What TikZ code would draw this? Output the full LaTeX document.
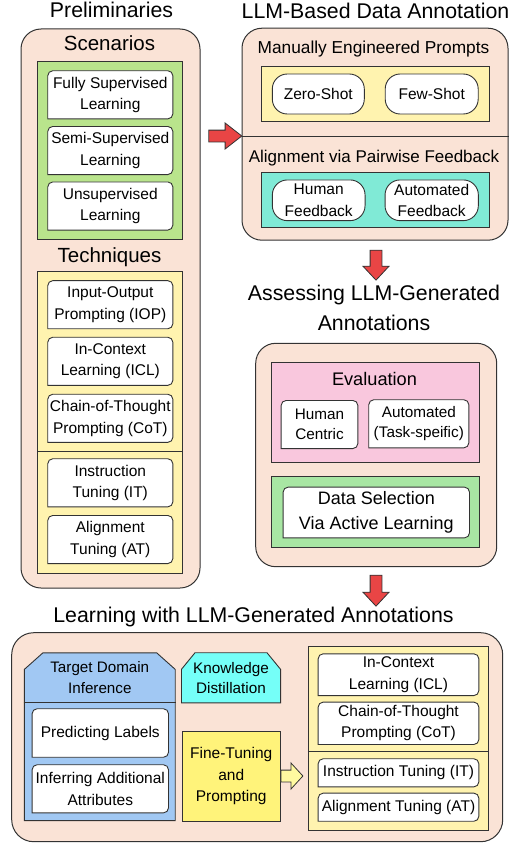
\documentclass[tikz,border=0pt]{standalone}
\usepackage{fontspec}
\setmainfont{Liberation Sans}
\usetikzlibrary{shapes.arrows}
\definecolor{linegray}{RGB}{51,51,51}
\definecolor{peach}{RGB}{250,227,214}
\definecolor{scengreen}{RGB}{185,228,140}
\definecolor{paleyellow}{RGB}{255,243,175}
\definecolor{fbteal}{RGB}{128,234,214}
\definecolor{evalpink}{RGB}{249,199,221}
\definecolor{selgreen}{RGB}{168,230,163}
\definecolor{tdiblue}{RGB}{161,200,243}
\definecolor{kdcyan}{RGB}{117,255,248}
\definecolor{ftyellow}{RGB}{255,243,122}
\definecolor{arrowyellow}{RGB}{255,250,160}
\definecolor{arrowred}{RGB}{233,69,69}
\begin{document}
\begin{tikzpicture}[x=1pt, y=-1pt, line width=0.9pt,
  title/.style={font=\fontsize{21.3}{30}\selectfont, align=center},
  head/.style={anchor=base, font=\fontsize{#1}{#1}\selectfont},
  panel/.style={draw=linegray, fill=peach, rounded corners=20pt, inner sep=0pt, line width=1pt},
  group/.style={draw=linegray, fill=#1, inner sep=0pt},
  leaf/.style={inner sep=0pt, align=center, font=\fontsize{15.5}{21.5}\selectfont,
    path picture={\draw[draw=linegray, fill=white, rounded corners=5pt, line cap=rect]
      ([shift={(0.45pt,0.45pt)}]path picture bounding box.south west)
      -- ([shift={(0.45pt,-0.45pt)}]path picture bounding box.north west)
      -- ([shift={(-0.45pt,-0.45pt)}]path picture bounding box.north east)
      -- ([shift={(-0.45pt,0.45pt)}]path picture bounding box.south east)
      -- ([shift={(0.45pt,0.45pt)}]path picture bounding box.south west);}},
  pill/.style={draw=linegray, fill=white, rounded corners=15pt, inner sep=0pt, align=center,
    font=\fontsize{15.5}{21.5}\selectfont},
  cut/.style 2 args={inner sep=0pt, align=center, font=\fontsize{15.3}{20}\selectfont,
    path picture={\draw[draw=linegray, fill=#1]
      ([shift={(0.45pt,0.45pt)}]path picture bounding box.south west)
      -- ([shift={(0.45pt,-17pt)}]path picture bounding box.north west)
      -- ([shift={(#2,-0.45pt)}]path picture bounding box.north west)
      -- ([shift={(-#2,-0.45pt)}]path picture bounding box.north east)
      -- ([shift={(-0.45pt,-17pt)}]path picture bounding box.north east)
      -- ([shift={(-0.45pt,0.45pt)}]path picture bounding box.south east) -- cycle;}},
  blockarrow/.style={single arrow, draw=linegray, fill=arrowred, inner sep=5.5pt,
    minimum width=22pt, line width=0.8pt}]
\useasboundingbox (0,0) rectangle (520,843);

% Preliminaries
\node[title, anchor=base] (pretitle) at (111.5,17.5) {Preliminaries};
\node[panel, minimum width=179pt, minimum height=559pt] (pre) at (110.5,308.5) {};
\node[head=20.5] (scentitle) at (109.5,51) {Scenarios};
\node[group=scengreen, minimum width=145pt, minimum height=178pt] (scen) at (110.2,150) {};
\node[leaf, minimum width=126pt, minimum height=49pt] (fsl) at (110.3,94.8) {Fully Supervised\\Learning};
\node[leaf, minimum width=126pt, minimum height=49pt] (ssl) at (110.3,150.5) {Semi-Supervised\\Learning};
\node[leaf, minimum width=126pt, minimum height=49pt] (usl) at (110.3,206) {Unsupervised\\Learning};
\node[head=20.5] (techtitle) at (109.5,262) {Techniques};
\node[group=paleyellow, minimum width=145pt, minimum height=301.6pt] (tech) at (110.2,422.5) {};
\draw[linegray] (tech.west |- 0,451.7) -- (tech.east |- 0,451.7);
\node[leaf, minimum width=126pt, minimum height=49pt] (iop) at (110.3,304.7) {Input-Output\\Prompting (IOP)};
\node[leaf, minimum width=126pt, minimum height=49pt] (icl) at (110.3,361.3) {In-Context\\Learning (ICL)};
\node[leaf, minimum width=126pt, minimum height=49pt] (cot) at (110.3,418.3) {Chain-of-Thought\\Prompting (CoT)};
\node[leaf, minimum width=126pt, minimum height=49pt] (itu) at (110.3,482.8) {Instruction\\Tuning (IT)};
\node[leaf, minimum width=126pt, minimum height=49pt] (atu) at (110.3,539.5) {Alignment\\Tuning (AT)};

\node[blockarrow, minimum height=33pt, single arrow tip angle=76] (arr1) at (221.5,136) {};

% LLM-based annotation
\node[title, anchor=base] (llmtitle) at (375.5,18.5) {LLM-Based Data Annotation};
\node[panel, minimum width=266pt, minimum height=212pt] (llm) at (375,134.2) {};
\node[head=17.3] (meptitle) at (373.5,53.5) {Manually Engineered Prompts};
\node[group=paleyellow, minimum width=227.6pt, minimum height=55pt] (prompts) at (375.5,93.5) {};
\node[pill, minimum width=92pt, minimum height=40pt] (zero) at (318.3,94) {Zero-Shot};
\node[pill, minimum width=93pt, minimum height=40pt] (few) at (431.7,94) {Few-Shot};
\draw[linegray] (llm.west |- 0,136.7) -- (llm.east |- 0,136.7);
\node[head=17] (apftitle) at (374,162) {Alignment via Pairwise Feedback};
\node[group=fbteal, minimum width=227.6pt, minimum height=55.4pt] (feedback) at (375.5,200) {};
\node[pill, minimum width=92.7pt, minimum height=40.7pt] (hf) at (318.7,200.3) {Human\\Feedback};
\node[pill, minimum width=93.3pt, minimum height=40.7pt] (af) at (431.7,200.3) {Automated\\Feedback};

\node[blockarrow, shape border rotate=270, minimum height=30pt, single arrow tip angle=86] (arr2) at (376,262) {};

% Assessing
\node[title] (asstitle) at (374,308) {Assessing LLM-Generated\\Annotations};
\node[panel, minimum width=241pt, minimum height=223.4pt] (assess) at (376.2,455) {};
\node[group=evalpink, minimum width=207.6pt, minimum height=100pt] (eval) at (375.5,412.3) {};
\node[head=18.2] (evaltitle) at (374.5,385) {Evaluation};
\node[leaf, minimum width=77.6pt, minimum height=49pt, font=\fontsize{15.3}{20}\selectfont] (hc) at (319.5,424.5) {Human\\Centric};
\node[leaf, minimum width=101pt, minimum height=49pt, font=\fontsize{15.3}{20}\selectfont] (ats) at (418.8,423.8) {Automated\\(Task-speific)};
\node[group=selgreen, minimum width=207.6pt, minimum height=71pt] (sel) at (375.5,512.2) {};
\node[leaf, minimum width=187.3pt, minimum height=51.6pt, font=\fontsize{18}{25}\selectfont] (ds) at (376.3,512.5) {Data Selection\\Via Active Learning};

\node[blockarrow, shape border rotate=270, minimum height=31pt, single arrow tip angle=86] (arr3) at (376,587.5) {};

% Learning with annotations
\node[title, anchor=base] (lrntitle) at (253.5,622) {Learning with LLM-Generated Annotations};
\node[panel, rounded corners=22pt, minimum width=491pt, minimum height=209pt] (lrn) at (257.2,737.2) {};
\node[cut={tdiblue}{19pt}, minimum width=151.7pt, minimum height=168.7pt] (tdi) at (99.8,736.7) {};
\node[inner sep=0pt, align=center, font=\fontsize{15.2}{21}\selectfont, minimum width=151.7pt, minimum height=49.7pt] (tdihead) at (99.8,677.2) {Target Domain\\Inference};
\draw[linegray] (tdihead.south west) -- (tdihead.south east);
\node[leaf, minimum width=137.3pt, minimum height=49.4pt] (pl) at (100.3,733) {Predicting Labels};
\node[leaf, minimum width=137.3pt, minimum height=49pt] (iaa) at (100.3,788.8) {Inferring Additional\\Attributes};
\node[cut={kdcyan}{14pt}, minimum width=100pt, minimum height=51pt] (kd) at (231,677.8) {Knowledge\\Distillation};
\node[group=ftyellow, align=center, font=\fontsize{15.5}{21.7}\selectfont, minimum width=97.7pt, minimum height=90pt] (ftp) at (231.2,776) {Fine-Tuning\\and\\Prompting};
\node[single arrow, draw=linegray, fill=arrowyellow, inner sep=5.5pt, line width=0.8pt, minimum height=22pt, minimum width=26pt, single arrow tip angle=95, anchor=tail] (arr4) at (ftp.east) {};
\node[group=paleyellow, minimum width=180pt, minimum height=184pt] (tune) at (398.3,738.7) {};
\draw[linegray] (tune.west |- 0,751.7) -- (tune.east |- 0,751.7);
\node[leaf, minimum width=161.6pt, minimum height=42.7pt, font=\fontsize{15.5}{21.3}\selectfont] (icl2) at (398.5,674.7) {In-Context\\Learning (ICL)};
\node[leaf, minimum width=161.6pt, minimum height=43.3pt, font=\fontsize{15.5}{21.3}\selectfont] (cot2) at (398.5,723.3) {Chain-of-Thought\\Prompting (CoT)};
\node[leaf, minimum width=161.6pt, minimum height=29pt] (it2) at (398.5,772.8) {Instruction Tuning (IT)};
\node[leaf, minimum width=161.6pt, minimum height=29pt] (at2) at (398.5,807.2) {Alignment Tuning (AT)};
\end{tikzpicture}
\end{document}
